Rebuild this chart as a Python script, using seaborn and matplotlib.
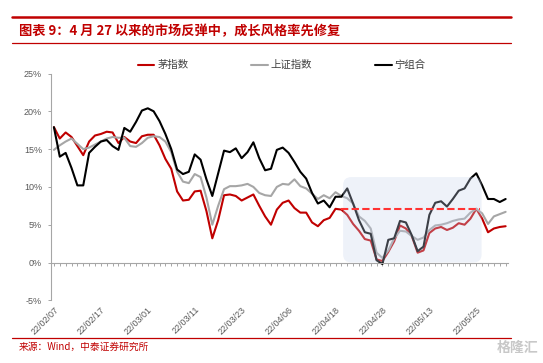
import matplotlib
matplotlib.use("Agg")
import matplotlib.pyplot as plt
import seaborn as sns
import pandas as pd
import numpy as np
from matplotlib.lines import Line2D
from matplotlib.patches import FancyBboxPatch
from matplotlib.ticker import MultipleLocator, FixedLocator

# ---------------- data ----------------
tick_labels = ["22/02/07", "22/02/17", "22/03/01", "22/03/11", "22/03/23",
               "22/04/06", "22/04/18", "22/04/28", "22/05/13", "22/05/25"]
n_days = 78
series_names = ["茅指数", "上证指数", "宁组合"]

mao = [17.9, 16.4, 17.2, 16.6, 15.4, 14.2, 16.0, 16.8, 17.0, 17.3,
       17.2, 15.8, 16.6, 16.0, 15.8, 16.7, 16.9, 16.9, 15.5, 13.7,
       12.4, 9.4, 8.2, 8.3, 9.4, 9.5, 6.8, 3.2, 5.6, 8.9,
       9.0, 8.8, 8.2, 8.6, 9.0, 7.5, 6.1, 5.0, 7.0, 7.9,
       8.2, 7.2, 6.6, 6.6, 5.3, 4.8, 5.6, 5.9, 7.1, 7.0,
       6.3, 5.1, 4.2, 3.1, 2.9, 0.4, 0.2, 1.4, 2.8, 4.9,
       4.5, 3.5, 1.3, 1.6, 3.9, 4.5, 4.7, 4.3, 4.6, 5.2,
       5.0, 5.8, 7.1, 5.8, 4.0, 4.5, 4.7, 4.8]

sh = [14.9, 15.5, 16.0, 16.4, 15.7, 15.0, 15.2, 15.6, 16.0, 16.4,
      16.6, 16.5, 16.5, 15.4, 15.3, 15.8, 16.5, 16.7, 16.6, 16.0,
      14.6, 12.0, 10.7, 10.5, 11.7, 11.3, 8.6, 5.0, 7.5, 9.7,
      10.1, 10.1, 10.2, 10.4, 10.0, 9.2, 8.9, 8.8, 10.0, 10.4,
      10.3, 11.0, 10.1, 9.8, 9.1, 8.4, 8.9, 8.5, 9.3, 8.8,
      8.5, 7.8, 6.1, 5.5, 4.5, 1.3, 0.6, 1.6, 3.2, 4.2,
      4.1, 3.5, 3.0, 3.3, 4.3, 4.9, 5.0, 5.2, 5.5, 5.7,
      5.8, 6.6, 7.1, 6.5, 5.1, 6.1, 6.4, 6.7]

ning = [17.9, 14.0, 14.5, 12.5, 10.2, 10.2, 14.5, 15.3, 16.0, 16.2,
        15.4, 14.9, 17.8, 17.3, 18.6, 20.1, 20.4, 20.0, 18.7, 17.0,
        15.0, 12.3, 11.7, 12.0, 14.3, 13.6, 11.0, 8.8, 11.8, 14.8,
        14.6, 15.1, 13.8, 14.6, 15.9, 13.8, 12.2, 12.4, 14.9, 15.2,
        14.5, 13.3, 12.0, 11.1, 9.2, 7.8, 8.2, 7.3, 8.7, 8.7,
        9.8, 7.8, 5.6, 4.0, 3.8, 0.3, -0.2, 3.0, 3.2, 5.5,
        5.3, 3.6, 1.5, 2.1, 6.3, 7.9, 8.1, 7.4, 8.4, 9.5,
        9.8, 11.1, 11.8, 10.2, 8.4, 8.4, 8.0, 8.4]

ref_level = 7.1          # dashed reference level (%)
box_top = 11.3           # top of shaded region (%)

# ---------------- style ----------------
sns.set_theme(style="white")
plt.rcParams["font.family"] = ["Noto Sans CJK SC", "DejaVu Sans"]

colors = {"茅指数": "#C00000", "上证指数": "#A6A6A6", "宁组合": "#000000"}

idx = np.arange(n_days)
df = pd.DataFrame({
    "day": np.concatenate([idx, idx, idx]),
    "value": mao + sh + ning,
    "series": [series_names[0]] * n_days + [series_names[1]] * n_days + [series_names[2]] * n_days,
})

fig = plt.figure(figsize=(5.43, 3.63), dpi=100)
ax = fig.add_axes([0.0939, 0.1727, 0.8416, 0.6248])

sns.lineplot(data=df, x="day", y="value", hue="series", palette=colors,
             hue_order=series_names, linewidth=1.5, ax=ax, legend=False)

ax.set_xlim(-0.5, 77.4)
ax.set_ylim(-5, 25)
ax.set_xlabel("")
ax.set_ylabel("")

# shaded rounded region (overlay)
box = FancyBboxPatch((49.3, 0), 72.9 - 49.3, box_top,
                     boxstyle="round,pad=0,rounding_size=1.4",
                     mutation_aspect=0.76,
                     facecolor=(0.78, 0.83, 0.93), alpha=0.3,
                     edgecolor="none", zorder=4)
ax.add_patch(box)

# dashed reference line
ax.hlines(ref_level, 49.0, 72.6, colors="#FF3333",
          linestyles=(0, (3.5, 1.6)), linewidth=1.5, zorder=5)

# spines
for s in ["top", "right"]:
    ax.spines[s].set_visible(False)
ax.spines["left"].set_color("#A6A6A6")
ax.spines["left"].set_linewidth(0.8)
ax.spines["bottom"].set_color("#A6A6A6")
ax.spines["bottom"].set_linewidth(0.8)
ax.spines["bottom"].set_position(("data", 0))

# x ticks
ax.xaxis.set_major_locator(FixedLocator(list(range(0, 80, 8))))
ax.xaxis.set_minor_locator(MultipleLocator(1))
ax.set_xticklabels(tick_labels, rotation=45, ha="right", va="top",
                   rotation_mode="anchor",
                   fontfamily="Liberation Sans", fontsize=6.5, color="#595959")
ax.tick_params(axis="x", which="both", direction="out", length=2.5,
               width=0.7, color="#A6A6A6", bottom=True, pad=28)

# y ticks
yt = [-5, 0, 5, 10, 15, 20, 25]
ax.set_yticks(yt)
ax.set_yticklabels([f"{v}%" for v in yt], fontfamily="Liberation Sans",
                   fontsize=6.5, color="#595959")
ax.tick_params(axis="y", direction="out", length=2.5, width=0.7,
               color="#A6A6A6", left=True, pad=4)
ax.grid(False)

# legend
handles = [Line2D([0], [0], color=colors[n], lw=1.5) for n in series_names]
leg = ax.legend(handles, series_names, loc="center", bbox_to_anchor=(0.505, 1.037),
                ncol=3, frameon=False, fontsize=7.5, handlelength=1.6,
                handletextpad=0.3, columnspacing=6.0, borderaxespad=0)
for t in leg.get_texts():
    t.set_color("#404040")

# title & decorations
W, H = 543.0, 363.0
fig.add_artist(Line2D([12 / W, 511 / W], [1 - 16.5 / H] * 2, color="#C00000", lw=1.8))
fig.add_artist(Line2D([12 / W, 511 / W], [1 - 43 / H] * 2, color="#C00000", lw=0.9))
fig.add_artist(Line2D([12 / W, 511 / W], [1 - 338 / H] * 2, color="#C00000", lw=0.9))
fig.text(19 / W, 1 - 31 / H, "图表 9：4 月 27 以来的市场反弹中，成长风格率先修复",
         ha="left", va="center", color="#C00000", fontsize=9.5, fontweight="bold")
fig.text(19 / W, 1 - 347 / H, "来源：Wind，中泰证券研究所",
         ha="left", va="center", color="#C00000", fontsize=7)
fig.text(538 / W, 1 - 348 / H, "格隆汇", ha="right", va="center",
         color="#C8C8C8", fontsize=10, fontweight="bold")

fig.savefig("out.png", dpi=100)
